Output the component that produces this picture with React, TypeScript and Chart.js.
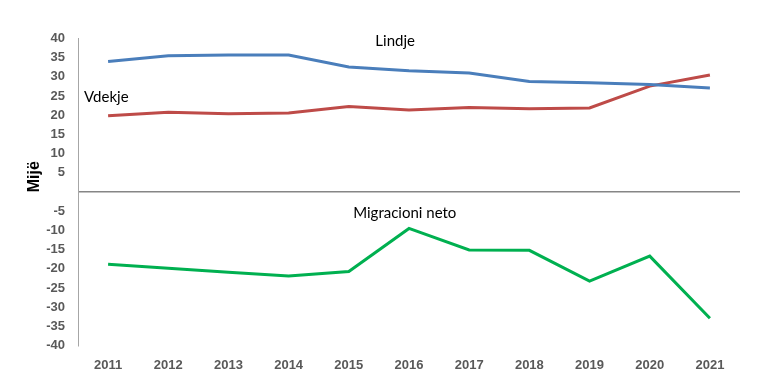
import React, { useEffect, useRef } from "react";
import { Chart, registerables } from "chart.js";

Chart.register(...registerables);

const years = ["2011", "2012", "2013", "2014", "2015", "2016", "2017", "2018", "2019", "2020", "2021"];
const lindje = [34.0, 35.5, 35.7, 35.7, 32.6, 31.6, 31.0, 28.8, 28.5, 28.0, 27.1];
const vdekje = [19.9, 20.8, 20.4, 20.6, 22.3, 21.4, 22.0, 21.7, 21.9, 27.6, 30.5];
const migracioni = [-18.8, -19.9, -20.9, -21.9, -20.7, -9.5, -15.1, -15.2, -23.2, -16.7, -32.9];
const seriesLabels = ["Lindje", "Vdekje", "Migracioni neto"];
const axisTitle = "Mijë";

const labelPlugin = {
  id: "seriesLabels",
  afterDraw(chart: any) {
    const { ctx, scales, chartArea } = chart;
    const x = scales.x;
    const y = scales.y;
    ctx.save();
    ctx.fillStyle = "#000000";
    ctx.font = "15px Lato, 'Open Sans', sans-serif";
    ctx.textAlign = "center";
    ctx.textBaseline = "middle";
    ctx.fillText(seriesLabels[0], x.getPixelForValue(4.77), y.getPixelForValue(39.2));
    ctx.fillText(seriesLabels[1], x.getPixelForValue(-0.03), y.getPixelForValue(24.6));
    ctx.fillText(seriesLabels[2], x.getPixelForValue(4.93), y.getPixelForValue(-5.6));
    ctx.translate(chartArea.left - 43, y.getPixelForValue(4));
    ctx.rotate(-Math.PI / 2);
    ctx.font = "bold 16px 'Liberation Sans', Arial, sans-serif";
    ctx.fillText(axisTitle, 0, 0);
    ctx.restore();
  },
};

export default function App() {
  const ref = useRef<HTMLCanvasElement>(null);
  useEffect(() => {
    document.body.style.margin = "0";
    const chart = new Chart(ref.current!, {
      type: "line",
      data: {
        labels: years,
        datasets: [
          { label: seriesLabels[0], data: lindje, borderColor: "#4A7EBB", borderWidth: 3, pointRadius: 0, tension: 0 },
          { label: seriesLabels[1], data: vdekje, borderColor: "#BE4B48", borderWidth: 3, pointRadius: 0, tension: 0 },
          { label: seriesLabels[2], data: migracioni, borderColor: "#00B050", borderWidth: 3, pointRadius: 0, tension: 0 },
        ],
      },
      options: {
        responsive: false,
        animation: false,
        layout: { padding: { top: 38.5, right: 38, left: 0, bottom: 0 } },
        plugins: { legend: { display: false }, tooltip: { enabled: false } },
        scales: {
          x: {
            offset: true,
            grid: { display: false },
            border: { display: false },
            ticks: {
              color: "#595959",
              font: { family: "'Liberation Sans', Arial, sans-serif", size: 13, weight: "bold" },
              padding: 4,
              maxRotation: 0,
            },
            afterFit: (s: any) => {
              s.height = 38.5;
            },
          },
          y: {
            min: -40,
            max: 40,
            ticks: {
              stepSize: 5,
              color: "#595959",
              font: { family: "'Liberation Sans', Arial, sans-serif", size: 13, weight: "bold" },
              padding: 13,
              callback: (v: any) => (v === 0 ? "" : String(v)),
            },
            grid: {
              drawTicks: false,
              color: (c: any) => (c.tick && c.tick.value === 0 ? "#868686" : "rgba(0,0,0,0)"),
              lineWidth: 1.5,
            },
            border: { display: true, color: "#A6A6A6", width: 1 },
            afterFit: (s: any) => {
              s.width = 78;
            },
          },
        },
      },
      plugins: [labelPlugin],
    });
    return () => chart.destroy();
  }, []);
  return (
    <div style={{ width: 778, height: 384 }}>
      <canvas ref={ref} width={778} height={384} style={{ display: "block" }} />
    </div>
  );
}
